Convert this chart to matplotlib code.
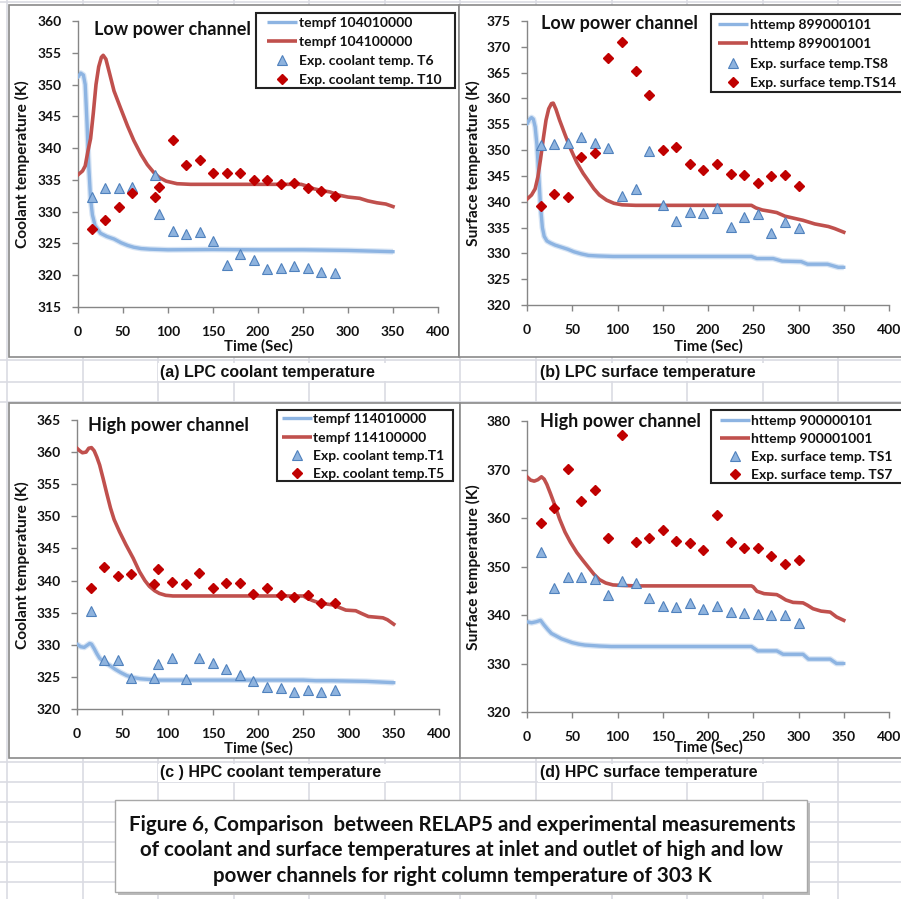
import matplotlib
matplotlib.use("Agg")
import matplotlib.pyplot as plt
from matplotlib.patches import Rectangle

W, H = 901, 899
FONT = ['Lato', 'DejaVu Sans']
NARROW = ['Liberation Sans Narrow', 'Liberation Sans', 'DejaVu Sans']
plt.rcParams['font.family'] = FONT

BLUE_LINE = '#8DB4E2'
RED_LINE = '#C0504D'
TRI_FACE = '#8EB3DE'
TRI_EDGE = '#4F81BD'
DIA = '#C00000'

# ---------------- data ----------------
# (a) LPC coolant
a_t_blue = [0, 3, 6, 8, 10, 12, 14, 16, 19, 25, 32, 40, 48, 55, 62, 70, 80, 100, 150, 200, 250, 300, 350]
a_v_blue = [351.2, 351.8, 351.5, 350.0, 344.0, 337.0, 332.0, 329.5, 327.8, 326.6, 326.1, 325.7, 325.1, 324.7,
            324.4, 324.2, 324.1, 324.0, 324.05, 324.0, 324.0, 323.9, 323.7]
a_t_red = [0, 5, 8, 11, 14, 17, 20, 23, 26, 28, 31, 35, 40, 47, 55, 62, 70, 77, 84, 90, 98, 110, 125, 200, 248,
           255, 262, 272, 280, 290, 300, 313, 322, 332, 342, 350]
a_v_red = [335.8, 336.4, 337.2, 339.5, 341.5, 345.5, 350.0, 352.8, 354.3, 354.6, 354.0, 351.8, 349.0, 346.4,
           343.5, 341.2, 339.0, 337.4, 336.2, 335.4, 334.8, 334.4, 334.3, 334.3, 334.3, 334.0, 333.6, 333.3,
           333.1, 332.6, 332.3, 332.1, 331.7, 331.4, 331.2, 330.8]
a_t_exp = [15, 30, 45, 60, 85, 90, 105, 120, 135, 150, 165, 180, 195, 210, 225, 240, 255, 270, 285]
a_T6 = [332.3, 333.7, 333.8, 333.9, 335.7, 329.6, 327.0, 326.5, 326.8, 325.4, 321.6, 323.3, 322.4, 321.0,
        321.2, 321.5, 321.1, 320.5, 320.4]
a_T10 = [327.2, 328.7, 330.7, 333.0, 332.3, 333.9, 341.2, 337.4, 338.1, 336.1, 336.1, 336.1, 335.0, 335.0,
         334.4, 334.5, 333.8, 333.2, 332.5]

# (b) LPC surface
b_t_blue = [0, 3, 5, 7, 9, 11, 13, 15, 17, 19, 22, 26, 31, 38, 45, 52, 60, 68, 78, 95, 150, 200, 248, 254,
            272, 282, 303, 310, 332, 338, 344, 350]
b_v_blue = [355.1, 356.0, 356.3, 356.0, 354.5, 351.0, 345.0, 339.0, 335.0, 333.3, 332.4, 332.0, 331.6, 331.2,
            330.8, 330.3, 329.9, 329.6, 329.5, 329.4, 329.4, 329.4, 329.4, 329.0, 329.0, 328.5, 328.4, 327.9,
            327.9, 327.6, 327.3, 327.3]
b_t_red = [0, 5, 9, 12, 15, 18, 21, 24, 27, 29, 32, 36, 42, 48, 55, 62, 68, 74, 80, 88, 96, 105, 120, 200,
           248, 253, 260, 270, 276, 285, 295, 305, 318, 333, 340, 350]
b_v_red = [340.5, 341.3, 342.5, 344.8, 348.3, 352.2, 355.8, 358.0, 359.0, 359.1, 357.9, 355.8, 353.0, 350.3,
           347.6, 345.5, 344.0, 342.5, 341.3, 340.3, 339.7, 339.4, 339.3, 339.3, 339.3, 338.8, 338.4, 338.1,
           337.9, 337.2, 336.8, 336.4, 335.7, 335.2, 334.8, 334.1]
b_t_exp = [15, 30, 45, 60, 75, 90, 105, 120, 135, 150, 165, 180, 195, 210, 225, 240, 255, 270, 285, 300]
b_TS8 = [350.9, 351.1, 351.3, 352.6, 351.4, 350.5, 341.2, 342.4, 349.9, 339.4, 336.3, 338.0, 337.9, 338.8,
         335.2, 337.0, 337.6, 334.0, 336.0, 335.0]
b_TS14 = [339.1, 341.5, 340.9, 348.6, 349.4, 367.8, 370.9, 365.3, 360.6, 350.0, 350.6, 347.3, 346.1, 347.3,
          345.3, 345.1, 343.7, 345.0, 345.1, 343.0]

# (c) HPC coolant
c_t_blue = [0, 4, 8, 11, 14, 16, 19, 22, 25, 30, 36, 42, 48, 55, 62, 70, 80, 91, 150, 200, 250, 264, 283,
            320, 350]
c_v_blue = [330.1, 329.7, 329.6, 329.9, 330.2, 330.1, 329.4, 328.6, 327.9, 327.3, 326.8, 326.2, 325.7, 325.2,
            324.9, 324.7, 324.6, 324.5, 324.5, 324.5, 324.5, 324.4, 324.4, 324.3, 324.1]
c_t_red = [0, 3, 6, 10, 13, 16, 19, 22, 25, 29, 33, 37, 41, 47, 54, 62, 69, 75, 80, 86, 91, 98, 106, 150,
           200, 250, 255, 260, 268, 283, 290, 297, 308, 314, 322, 338, 343, 350]
c_v_red = [360.6, 360.2, 359.9, 360.0, 360.6, 360.7, 360.2, 359.2, 358.0, 355.8, 353.5, 351.3, 349.5, 347.6,
           345.6, 343.5, 341.4, 340.0, 339.1, 338.4, 338.0, 337.7, 337.6, 337.6, 337.6, 337.6, 337.2, 336.9,
           336.5, 336.2, 335.8, 335.4, 335.3, 334.9, 334.4, 334.2, 333.9, 333.2]
c_t_exp = [15, 30, 45, 60, 85, 90, 105, 120, 135, 150, 165, 180, 195, 210, 225, 240, 255, 270, 285]
c_T1 = [335.3, 327.6, 327.6, 324.9, 324.8, 327.0, 327.9, 324.6, 328.0, 327.2, 326.2, 325.3, 324.3, 323.5,
        323.2, 322.6, 323.0, 322.6, 322.9]
c_T5 = [338.8, 342.1, 340.7, 341.0, 339.4, 341.8, 339.8, 339.4, 341.1, 338.8, 339.6, 339.6, 337.9, 338.8,
        337.8, 337.4, 337.8, 336.5, 336.5]

# (d) HPC surface
d_t_blue = [0, 5, 10, 15, 19, 23, 27, 32, 38, 44, 50, 57, 64, 72, 80, 93, 150, 200, 248, 255, 276, 283, 305,
            311, 335, 342, 350]
d_v_blue = [338.6, 338.4, 338.6, 338.9, 337.9, 337.0, 336.2, 335.7, 335.1, 334.7, 334.3, 334.0, 333.8, 333.7,
            333.6, 333.5, 333.5, 333.5, 333.5, 332.6, 332.6, 331.9, 331.9, 330.9, 330.9, 330.0, 330.0]
d_t_red = [0, 4, 8, 12, 16, 19, 22, 26, 31, 36, 42, 48, 55, 62, 68, 74, 80, 87, 95, 105, 120, 200, 248, 250,
           254, 262, 276, 280, 286, 294, 305, 310, 316, 325, 335, 342, 350]
d_v_red = [368.5, 367.8, 367.6, 367.9, 368.5, 368.0, 366.9, 365.0, 362.5, 359.8, 357.1, 355.0, 352.9, 351.2,
           349.8, 348.4, 347.3, 346.6, 346.2, 346.1, 346.0, 346.0, 346.0, 345.8, 344.9, 344.4, 344.2, 343.8,
           343.1, 342.6, 342.5, 342.0, 341.3, 340.8, 340.6, 339.6, 338.9]
d_t_exp = [15, 30, 45, 60, 75, 90, 105, 120, 135, 150, 165, 180, 195, 210, 225, 240, 255, 270, 285, 300]
d_TS1 = [353.0, 345.6, 347.9, 347.8, 347.5, 344.1, 347.1, 346.5, 343.5, 341.9, 341.7, 342.4, 341.2, 341.8,
         340.6, 340.4, 340.2, 339.9, 339.9, 338.3]
d_TS7 = [358.9, 362.1, 370.2, 363.6, 365.8, 355.9, 377.1, 355.1, 355.9, 357.5, 355.3, 354.9, 353.3, 360.7,
         355.1, 353.9, 353.8, 352.1, 350.5, 351.3]

x_ticks = [0, 50, 100, 150, 200, 250, 300, 350, 400]

panels = [
    dict(box=(78, 21, 438, 307), ylim=(315, 360), ystep=5,
         blue=(a_t_blue, a_v_blue), red=(a_t_red, a_v_red), texp=a_t_exp, tri=a_T6, dia=a_T10,
         labels=['tempf 104010000', 'tempf 104100000', 'Exp. coolant temp. T6', 'Exp. coolant temp. T10'],
         title='Low power channel', title_xy=(94, 30), ylabel='Coolant temperature (K)', ylab_xy=(22, 164),
         xlab_xy=(258, 346),
         leg_box=(256, 13, 455, 88), leg_rows=[22, 41, 60, 79], leg_hx=(267, 297), leg_tx=299,
         frame=(9, 5, 459, 357), caption='(a) LPC coolant temperature', cap_xy=(158, 372)),
    dict(box=(527, 21, 889, 305), ylim=(320, 375), ystep=5,
         blue=(b_t_blue, b_v_blue), red=(b_t_red, b_v_red), texp=b_t_exp, tri=b_TS8, dia=b_TS14,
         labels=['httemp 899000101', 'httemp 899001001', 'Exp. surface temp.TS8', 'Exp. surface temp.TS14'],
         title='Low power channel', title_xy=(541, 23), ylabel='Surface temperature (K)', ylab_xy=(473, 163),
         xlab_xy=(708, 346),
         leg_box=(711, 14, 903, 92), leg_rows=[24, 43, 63, 82], leg_hx=(718, 748), leg_tx=750,
         frame=(459, 5, 905, 357), caption='(b) LPC surface temperature', cap_xy=(538, 372)),
    dict(box=(77, 420, 439, 709), ylim=(320, 365), ystep=5,
         blue=(c_t_blue, c_v_blue), red=(c_t_red, c_v_red), texp=c_t_exp, tri=c_T1, dia=c_T5,
         labels=['tempf 114010000', 'tempf 114100000', 'Exp. coolant temp.T1', 'Exp. coolant temp.T5'],
         title='High power channel', title_xy=(88, 426), ylabel='Coolant temperature (K)', ylab_xy=(22, 565),
         xlab_xy=(258, 748),
         leg_box=(277, 410, 453, 481), leg_rows=[418, 437, 455, 473], leg_hx=(282, 312), leg_tx=313,
         frame=(9, 403, 460, 758), caption='(c ) HPC coolant temperature', cap_xy=(158, 773)),
    dict(box=(527, 421, 889, 712), ylim=(320, 380), ystep=10,
         blue=(d_t_blue, d_v_blue), red=(d_t_red, d_v_red), texp=d_t_exp, tri=d_TS1, dia=d_TS7,
         labels=['httemp 900000101', 'httemp 900001001', 'Exp. surface temp. TS1', 'Exp. surface temp. TS7'],
         title='High power channel', title_xy=(540, 421), ylabel='Surface temperature (K)', ylab_xy=(473, 567),
         xlab_xy=(708, 747),
         leg_box=(711, 410, 903, 483), leg_rows=[420, 438, 456, 474], leg_hx=(720, 750), leg_tx=751,
         frame=(460, 403, 905, 758), caption='(d) HPC surface temperature', cap_xy=(538, 773)),
]

fig = plt.figure(figsize=(W / 100, H / 100), dpi=100)
fig.patch.set_facecolor('white')


def fx(x):
    return x / W


def fy(y):
    return 1 - y / H


# spreadsheet background
bg = fig.add_axes([0, 0, 1, 1], zorder=0)
bg.set_xlim(0, W)
bg.set_ylim(H, 0)
bg.axis('off')
GRID = '#DADCE3'
for x in [7, 83, 158, 234, 309, 385, 460, 536, 612, 687, 763, 838]:
    bg.plot([x, x], [0, H], color=GRID, lw=1.2, zorder=0)
for y in [2, 360, 382, 402, 762, 782, 802, 822, 842, 862, 882]:
    bg.plot([0, W], [y, y], color=GRID, lw=1.2, zorder=0)

for p in panels:
    x0, y0, x1, y1 = p['frame']
    bg.add_patch(Rectangle((x0, y0), x1 - x0, y1 - y0, facecolor='white', edgecolor='#8A8A8A', lw=1.2, zorder=2))
    cx, cy = p['cap_xy']
    bg.add_patch(Rectangle((cx, cy - 9), 228, 18, facecolor='white', edgecolor='none', zorder=1))
    bg.text(cx + 2, cy, p['caption'], family=NARROW, fontsize=11.5, fontweight='bold', va='center',
            ha='left', color='#111111', zorder=3)

# caption box
bg.add_patch(Rectangle((118, 803), 692, 92, facecolor='#BBBBBB', edgecolor='none', zorder=2))
bg.add_patch(Rectangle((115, 800), 692, 92, facecolor='white', edgecolor='#A8A8A8', lw=1, zorder=3))
cap_lines = ['Figure 6, Comparison  between RELAP5 and experimental measurements',
             'of coolant and surface temperatures at inlet and outlet of high and low',
             'power channels for right column temperature of 303 K']
for yy, line in zip([825, 850, 876], cap_lines):
    bg.text(462, yy, line, fontsize=14.8, fontweight='bold', ha='center', va='center', color='#111111', zorder=4)

# overlay for legends (pixel coordinates)
ov = fig.add_axes([0, 0, 1, 1], zorder=10)
ov.set_xlim(0, W)
ov.set_ylim(H, 0)
ov.axis('off')
ov.patch.set_alpha(0)

for p in panels:
    l, t, r, b = p['box']
    ax = fig.add_axes([fx(l), fy(b), (r - l) / W, (b - t) / H], zorder=3)
    ax.patch.set_alpha(0)
    tb, vb = p['blue']
    tr, vr = p['red']
    ax.plot(tb, vb, color=BLUE_LINE, lw=4.2, alpha=0.35, solid_capstyle='butt', zorder=2)
    ax.plot(tb, vb, color=BLUE_LINE, lw=2.4, zorder=3)
    ax.plot(tr, vr, color=RED_LINE, lw=2.6, zorder=3)
    ax.plot(p['texp'], p['tri'], ls='none', marker='^', ms=6.5, mfc=TRI_FACE, mec=TRI_EDGE, mew=0.8, zorder=4)
    ax.plot(p['texp'], p['dia'], ls='none', marker='D', ms=4.6, mfc=DIA, mec=DIA, zorder=4)
    ax.set_xlim(0, 400)
    ax.set_ylim(*p['ylim'])
    ax.set_xticks(x_ticks)
    lo, hi = p['ylim']
    ax.set_yticks(list(range(lo, hi + 1, p['ystep'])))
    for s in ['top', 'right']:
        ax.spines[s].set_visible(False)
    for s in ['left', 'bottom']:
        ax.spines[s].set_color('#868686')
        ax.spines[s].set_linewidth(1.0)
    ax.tick_params(axis='both', direction='out', length=4.5, width=1.0, color='#868686',
                   labelsize=10, labelcolor='#111111')
    ax.tick_params(axis='x', pad=9.5)
    ax.tick_params(axis='y', pad=7)
    for lab in ax.get_xticklabels() + ax.get_yticklabels():
        lab.set_fontweight('bold')

    tx, ty = p['title_xy']
    fig.text(fx(tx), fy(ty), p['title'], fontsize=13, fontweight='bold', ha='left', va='center',
             color='#111111', zorder=5)
    yx, yy = p['ylab_xy']
    fig.text(fx(yx), fy(yy), p['ylabel'], fontsize=11.2, fontweight='bold', rotation=90, ha='center',
             va='center', color='#111111', zorder=5)
    xx, xy = p['xlab_xy']
    fig.text(fx(xx), fy(xy), 'Time (Sec)', fontsize=10.8, fontweight='bold', ha='center', va='center',
             color='#111111', zorder=5)

    # manual legend
    bx0, by0, bx1, by1 = p['leg_box']
    ov.add_patch(Rectangle((bx0, by0), bx1 - bx0, by1 - by0, facecolor='white', edgecolor='#222222',
                           lw=1.5, zorder=1))
    hx0, hx1 = p['leg_hx']
    hm = (hx0 + hx1) / 2
    rows = p['leg_rows']
    ov.plot([hx0, hx1], [rows[0], rows[0]], color=BLUE_LINE, lw=2.4, solid_capstyle='butt', zorder=2)
    ov.plot([hx0, hx1], [rows[1], rows[1]], color=RED_LINE, lw=2.6, solid_capstyle='butt', zorder=2)
    ov.plot([hm], [rows[2]], ls='none', marker='^', ms=6.5, mfc=TRI_FACE, mec=TRI_EDGE, mew=0.8, zorder=2)
    ov.plot([hm], [rows[3]], ls='none', marker='D', ms=4.6, mfc=DIA, mec=DIA, zorder=2)
    for ry, lab in zip(rows, p['labels']):
        ov.text(p['leg_tx'], ry, lab, fontsize=10, fontweight='bold', ha='left', va='center_baseline',
                color='#111111', zorder=3)

fig.savefig('out.png', dpi=100, facecolor='white')
